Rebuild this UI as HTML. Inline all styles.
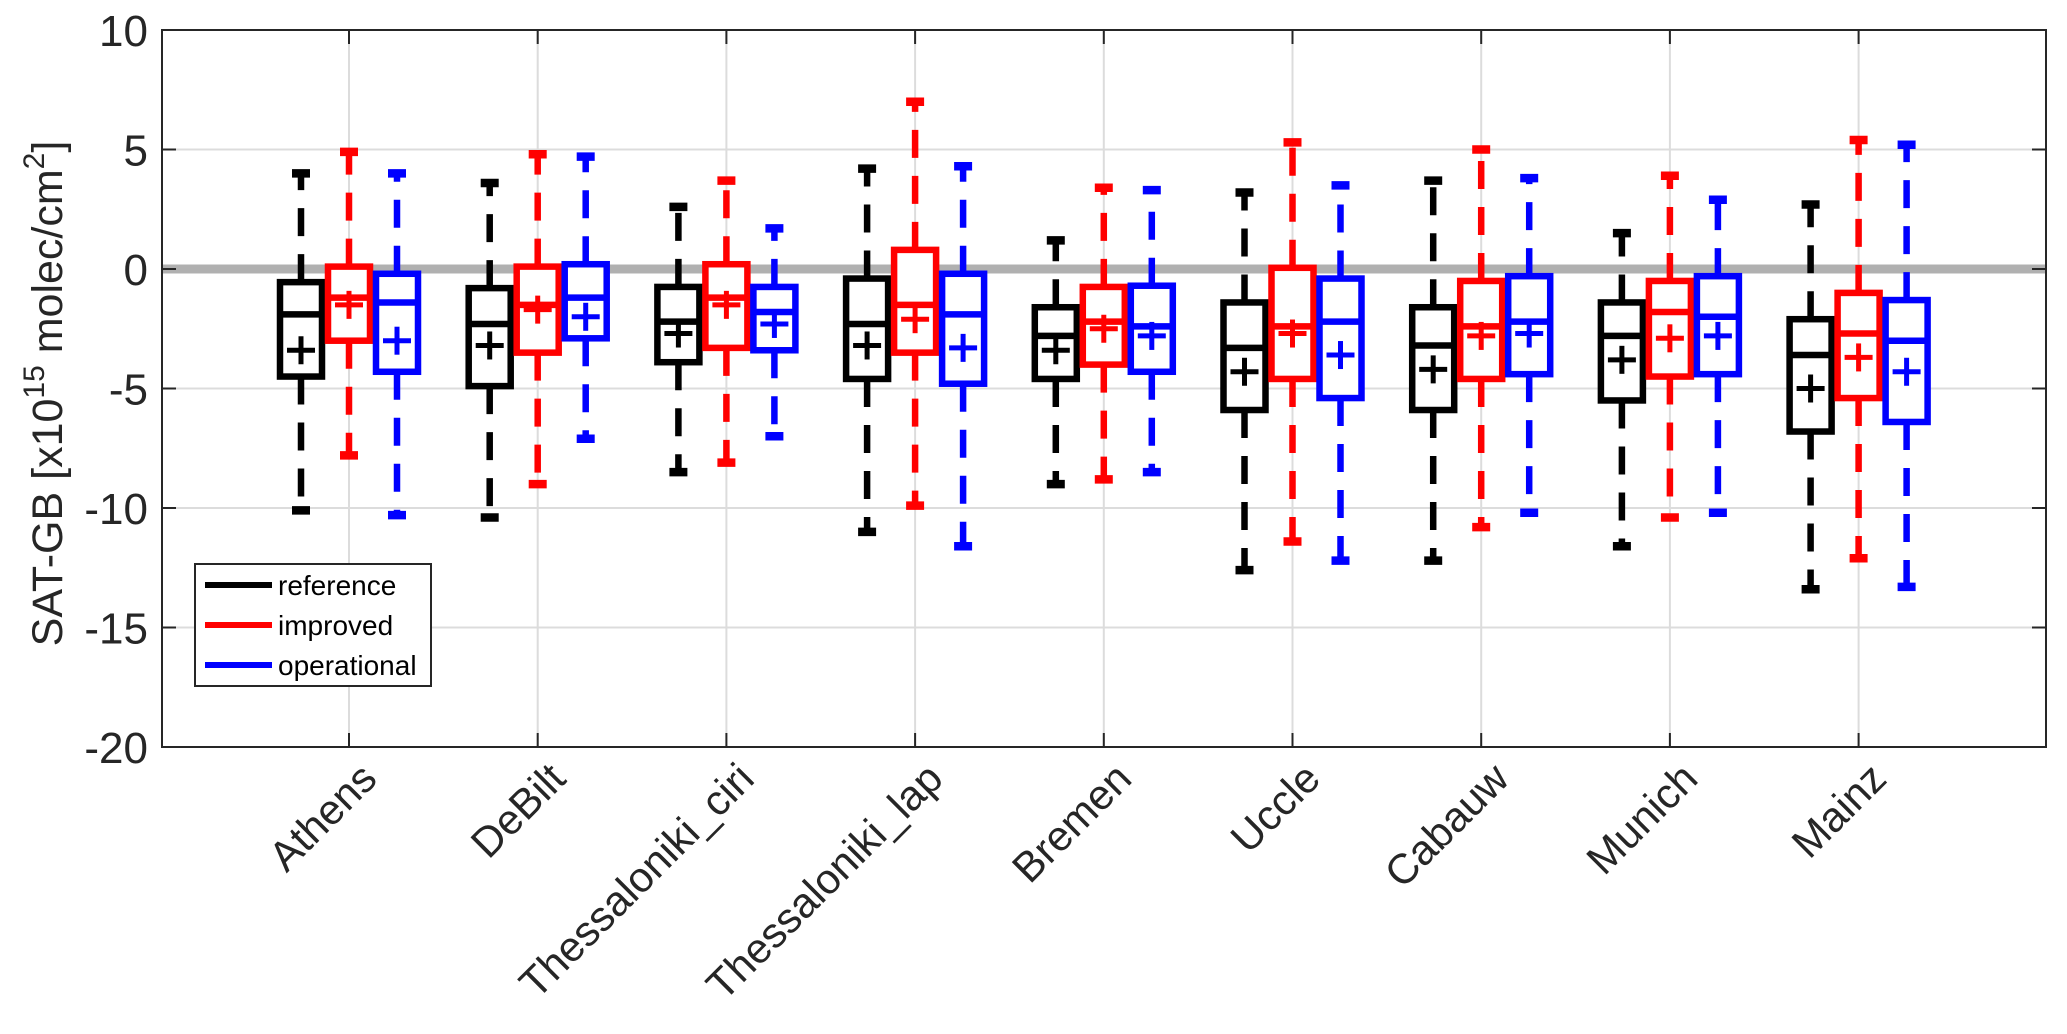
<!DOCTYPE html>
<html><head><meta charset="utf-8"><style>
html,body{margin:0;padding:0;background:#fff;}
svg{display:block;font-family:"Liberation Sans",Arial,sans-serif;}
</style></head><body>
<svg id="chart" width="2067" height="1034" viewBox="0 0 2067 1034" xmlns="http://www.w3.org/2000/svg"></svg>
<script>
const categories=["Athens","DeBilt","Thessaloniki_ciri","Thessaloniki_lap","Bremen","Uccle","Cabauw","Munich","Mainz"];
const seriesNames=["reference","improved","operational"];
const seriesColors=["#000000","#ff0000","#0000ff"];
// each row: [whiskerLow, q1, median, q3, whiskerHigh, mean]
const refStats=[[-10.1,-4.5,-1.9,-0.55,4.0,-3.4],[-10.4,-4.9,-2.3,-0.8,3.6,-3.2],[-8.5,-3.9,-2.2,-0.75,2.6,-2.7],[-11.0,-4.6,-2.3,-0.4,4.2,-3.2],[-9.0,-4.6,-2.8,-1.6,1.2,-3.4],[-12.6,-5.9,-3.3,-1.4,3.2,-4.3],[-12.2,-5.9,-3.2,-1.6,3.7,-4.2],[-11.6,-5.5,-2.8,-1.4,1.5,-3.8],[-13.4,-6.8,-3.6,-2.1,2.7,-5.0]];
const impStats=[[-7.8,-3.0,-1.2,0.1,4.9,-1.5],[-9.0,-3.5,-1.5,0.1,4.8,-1.7],[-8.1,-3.3,-1.2,0.2,3.7,-1.5],[-9.9,-3.5,-1.5,0.8,7.0,-2.1],[-8.8,-4.0,-2.2,-0.75,3.4,-2.5],[-11.4,-4.6,-2.4,0.05,5.3,-2.7],[-10.8,-4.6,-2.4,-0.5,5.0,-2.8],[-10.4,-4.5,-1.8,-0.5,3.9,-2.9],[-12.1,-5.4,-2.7,-1.0,5.4,-3.7]];
const opStats=[[-10.3,-4.3,-1.4,-0.2,4.0,-3.0],[-7.1,-2.9,-1.2,0.2,4.7,-2.0],[-7.0,-3.4,-1.8,-0.75,1.7,-2.3],[-11.6,-4.8,-1.9,-0.2,4.3,-3.3],[-8.5,-4.3,-2.4,-0.7,3.3,-2.8],[-12.2,-5.4,-2.2,-0.4,3.5,-3.6],[-10.2,-4.4,-2.2,-0.3,3.8,-2.7],[-10.2,-4.4,-2.0,-0.3,2.9,-2.8],[-13.3,-6.4,-3.0,-1.3,5.2,-4.3]];
const yTicks=[10,5,0,-5,-10,-15,-20];

const svg=document.getElementById('chart');
const NS="http://www.w3.org/2000/svg";
const L=162,R=2046,T=30,B=747;
const yMin=-20,yMax=10;
function y(v){return B-(v-yMin)/(yMax-yMin)*(B-T);}
function xc(i){return 349+i*188.7;}
function el(tag,attrs,parent){const e=document.createElementNS(NS,tag);for(const k in attrs)e.setAttribute(k,attrs[k]);(parent||svg).appendChild(e);return e;}

const grid=el('g',{});


yTicks.forEach(t=>{ if(t!==10&&t!==-20) el('line',{x1:L,x2:R,y1:y(t),y2:y(t),stroke:'#dcdcdc','stroke-width':2},grid);});
categories.forEach((c,i)=>{el('line',{x1:xc(i),x2:xc(i),y1:T,y2:B,stroke:'#dcdcdc','stroke-width':2},grid);});
const zl=el('line',{x1:L,x2:R,y1:y(0),y2:y(0),stroke:'#b0b0b0','stroke-width':9});



const allStats=[refStats,impStats,opStats];
const offsets=[-48,0,48];
const bw=42,lw=6.5;
categories.forEach((c,i)=>{
  allStats.forEach((st,s)=>{
    const d=st[i],col=seriesColors[s],cx=xc(i)+offsets[s];
    const g=el('g',{});
    
    
    el('line',{x1:cx,x2:cx,y1:y(d[3]),y2:y(d[4]),stroke:col,'stroke-width':lw,'stroke-dasharray':'28 18'},g);
    el('line',{x1:cx,x2:cx,y1:y(d[1]),y2:y(d[0]),stroke:col,'stroke-width':lw,'stroke-dasharray':'28 18'},g);
    el('line',{x1:cx-9,x2:cx+9,y1:y(d[4]),y2:y(d[4]),stroke:col,'stroke-width':lw+2},g);
    el('line',{x1:cx-9,x2:cx+9,y1:y(d[0]),y2:y(d[0]),stroke:col,'stroke-width':lw+2},g);
    el('rect',{x:cx-bw/2,y:y(d[3]),width:bw,height:y(d[1])-y(d[3]),fill:'#fff',stroke:col,'stroke-width':lw},g);
    el('line',{x1:cx-bw/2,x2:cx+bw/2,y1:y(d[2]),y2:y(d[2]),stroke:col,'stroke-width':lw},g);
    el('line',{x1:cx-14,x2:cx+14,y1:y(d[5]),y2:y(d[5]),stroke:col,'stroke-width':5},g);
    el('line',{x1:cx,x2:cx,y1:y(d[5])-14,y2:y(d[5])+14,stroke:col,'stroke-width':5},g);
  });
});

const ax=el('rect',{x:L,y:T,width:R-L,height:B-T,fill:'none',stroke:'#262626','stroke-width':2});


yTicks.forEach(t=>{
  el('line',{x1:L,x2:L+14,y1:y(t),y2:y(t),stroke:'#262626','stroke-width':2});
  el('line',{x1:R,x2:R-14,y1:y(t),y2:y(t),stroke:'#262626','stroke-width':2});
  const tx=el('text',{x:L-14,y:y(t)+16,'text-anchor':'end','font-size':44,fill:'#262626'});
  tx.textContent=t;
  
  
});
categories.forEach((c,i)=>{
  el('line',{x1:xc(i),x2:xc(i),y1:B,y2:B-14,stroke:'#262626','stroke-width':2});
  el('line',{x1:xc(i),x2:xc(i),y1:T,y2:T+14,stroke:'#262626','stroke-width':2});
  const tx=el('text',{x:0,y:0,'text-anchor':'end','font-size':42,fill:'#262626',transform:`translate(${xc(i)+30},${B+34}) rotate(-45)`});
  tx.textContent=c;
  
  
});
const yt=el('text',{x:0,y:0,'text-anchor':'middle','font-size':43,fill:'#262626',transform:`translate(62,${(T+B)/2+5}) rotate(-90)`});


yt.innerHTML='SAT-GB [x10<tspan dy="-18" font-size="30">15</tspan><tspan dy="18"> molec/cm</tspan><tspan dy="-18" font-size="30">2</tspan><tspan dy="18">]</tspan>';

const lg=el('g',{});


el('rect',{x:195,y:564,width:236,height:122,fill:'#fff',stroke:'#262626','stroke-width':2},lg);
seriesNames.forEach((n,s)=>{
  const ly=585+s*40;
  const e=el('g',{},lg);
  
  
  el('line',{x1:205,x2:272,y1:ly,y2:ly,stroke:seriesColors[s],'stroke-width':6},e);
  const t=el('text',{x:278,y:ly+10,'font-size':28,fill:'#000'},e);
  t.textContent=n;
});
</script>
</body></html>
